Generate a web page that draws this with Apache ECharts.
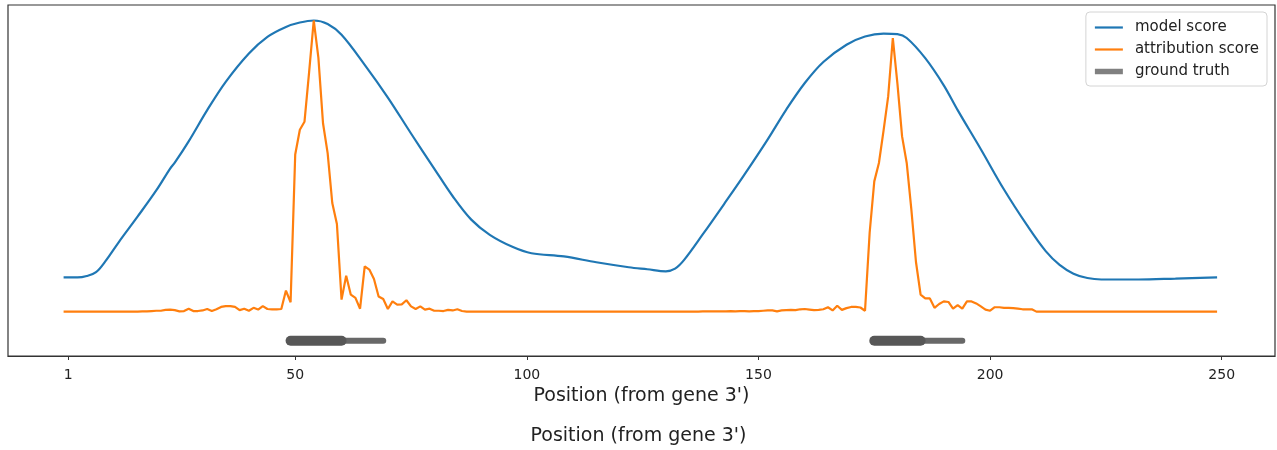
<!DOCTYPE html>
<html>
<head>
<meta charset="utf-8">
<script src="https://cdn.jsdelivr.net/npm/echarts@6/dist/echarts.min.js"></script>
<style>
html,body{margin:0;padding:0;background:#fff;}
#chart{width:1277px;height:450px;}
</style>
</head>
<body>
<div id="chart"></div>
<script>
// ---- data ----
const xTicks = [1, 50, 100, 150, 200, 250];
const xTitle = "Position (from gene 3')";

// model score (read at sampled positions)
const modelPos = [0, 3, 5, 7, 9, 12, 16, 20, 23, 24, 27, 31, 35, 40, 44, 48, 51, 54, 57, 60,
  65, 70, 75, 80, 84, 88, 92, 97, 101, 108, 115, 122, 126, 130, 132, 134, 138, 143, 147, 152,
  156, 160, 164, 169, 173, 177, 180, 182, 186, 190, 193, 198, 203, 208, 212, 215, 218, 221, 224, 232,
  240, 249];
const modelScore = [0.117, 0.117, 0.122, 0.135, 0.172, 0.240, 0.326, 0.415, 0.490, 0.510, 0.583, 0.690, 0.787, 0.884, 0.941, 0.975, 0.990, 0.997, 0.985, 0.948,
  0.845, 0.733, 0.610, 0.490, 0.395, 0.315, 0.263, 0.221, 0.200, 0.189, 0.169, 0.152, 0.145, 0.138, 0.147, 0.178, 0.265, 0.378, 0.470, 0.590,
  0.692, 0.783, 0.855, 0.914, 0.942, 0.952, 0.950, 0.937, 0.868, 0.775, 0.690, 0.556, 0.418, 0.295, 0.207, 0.160, 0.130, 0.115, 0.110, 0.110,
  0.113, 0.117];

// attribution score, one value per position 0..249
const attribution = [
  0,0,0,0,0,0,0,0,0,0,
  0,0,0,0,0,0,0,0.001,0.001,0.002,
  0.003,0.003,0.006,0.007,0.005,0.001,0.002,0.010,0.002,0.002,
  0.004,0.009,0.002,0.008,0.016,0.019,0.019,0.016,0.005,0.010,
  0.003,0.013,0.007,0.019,0.009,0.008,0.008,0.009,0.072,0.032,
  0.538,0.623,0.650,0.820,0.997,0.870,0.645,0.543,0.372,0.300,
  0.041,0.123,0.058,0.047,0.010,0.155,0.144,0.112,0.052,0.043,
  0.009,0.035,0.024,0.025,0.039,0.018,0.009,0.018,0.007,0.010,
  0.003,0.003,0.002,0.006,0.004,0.008,0.002,0,0,0,
  0,0,0,0,0,0,0,0,0,0,
  0,0,0,0,0,0,0,0,0,0,
  0,0,0,0,0,0,0,0,0,0,
  0,0,0,0,0,0,0,0,0,0,
  0,0,0,0,0,0,0,0,0.001,0.001,
  0.001,0.001,0.001,0.001,0.002,0.001,0.002,0.002,0.001,0.002,
  0.002,0.003,0.004,0.004,0.001,0.004,0.005,0.006,0.005,0.008,
  0.009,0.007,0.005,0.006,0.008,0.015,0.004,0.020,0.006,0.012,
  0.016,0.016,0.014,0.003,0.270,0.446,0.509,0.620,0.737,0.937,
  0.780,0.600,0.509,0.350,0.170,0.058,0.045,0.045,0.013,0.026,
  0.035,0.033,0.010,0.022,0.010,0.035,0.035,0.028,0.018,0.007,
  0.003,0.015,0.015,0.013,0.013,0.012,0.010,0.008,0.008,0.008,
  0,0,0,0,0,0,0,0,0,0,
  0,0,0,0,0,0,0,0,0,0,
  0,0,0,0,0,0,0,0,0,0,
  0,0,0,0,0,0,0,0,0,0
];

// ground truth intervals
const gtStart = [49, 175];
const gtCoreEnd = [60, 185];
const gtEnd = [69, 194];
const gtLevel = -0.1;

// ---- chart ----
const FONT = 'DejaVu Sans';
const BLUE = '#1f77b4', ORANGE = '#ff7f0e', GRAY = '#686868';

const series = [
  {
    name: 'model score', type: 'line', showSymbol: false, symbol: 'none',
    smooth: 0.35, lineStyle: { color: BLUE, width: 2.2 }, itemStyle: { color: BLUE },
    data: modelPos.map((p, i) => [p, modelScore[i]]), z: 2
  },
  {
    name: 'attribution score', type: 'line', showSymbol: false, symbol: 'none',
    lineStyle: { color: ORANGE, width: 2.2 }, itemStyle: { color: ORANGE },
    data: attribution.map((v, i) => [i, v]), z: 3
  }
];
gtStart.forEach((s, k) => {
  series.push({
    name: 'ground truth', type: 'line', showSymbol: false, symbol: 'none', silent: true,
    lineStyle: { color: GRAY, width: 6, cap: 'round' }, itemStyle: { color: GRAY },
    data: [[s, gtLevel], [gtEnd[k], gtLevel]], z: 4
  });
  series.push({
    name: 'ground truth', type: 'line', showSymbol: false, symbol: 'none', silent: true,
    lineStyle: { color: '#575757', width: 10, cap: 'round' }, itemStyle: { color: GRAY },
    data: [[s, gtLevel], [gtCoreEnd[k], gtLevel]], z: 5
  });
});

const chart = echarts.init(document.getElementById('chart'), null, { renderer: 'canvas' });
chart.setOption({
  animation: false,
  backgroundColor: '#fff',
  textStyle: { fontFamily: FONT },
  title: {
    text: xTitle, left: 'center', top: 427, padding: 0,
    textStyle: { fontFamily: FONT, fontSize: 19, fontWeight: 'normal', color: '#222' }
  },
  legend: {
    orient: 'vertical', right: 10, top: 12,
    padding: [8, 8, 7, 9], itemGap: 7, itemWidth: 28, itemHeight: 14,
    backgroundColor: 'rgba(255,255,255,0.85)', borderColor: '#d4d4d4', borderWidth: 1, borderRadius: 4,
    textStyle: { fontFamily: FONT, fontSize: 15, color: '#222', padding: [0, 0, 0, 7] },
    data: [
      { name: 'model score', icon: 'path://M0 0H28V2.2H0Z', itemStyle: { color: BLUE, borderWidth: 0 } },
      { name: 'attribution score', icon: 'path://M0 0H28V2.2H0Z', itemStyle: { color: ORANGE, borderWidth: 0 } },
      { name: 'ground truth', icon: 'path://M0 0H28V5.5H0Z', itemStyle: { color: '#808080', borderWidth: 0 } }
    ]
  },
  grid: {
    left: 8, right: 2, top: 5, bottom: 94,
    show: true, borderColor: '#333', borderWidth: 1.2, backgroundColor: 'transparent'
  },
  xAxis: {
    type: 'value', min: -12, max: 261.5,
    name: xTitle, nameLocation: 'middle', nameGap: 31,
    nameTextStyle: { fontFamily: FONT, fontSize: 19, color: '#222' },
    splitLine: { show: false },
    axisLine: { show: true, onZero: false, lineStyle: { color: '#333', width: 1.2 } },
    axisTick: { show: true, customValues: xTicks, length: 4, inside: false, lineStyle: { color: '#333', width: 1 } },
    axisLabel: { customValues: xTicks, margin: 12, fontFamily: FONT, fontSize: 14, color: '#222' }
  },
  yAxis: {
    type: 'value', min: -0.152, max: 1.05,
    show: false, splitLine: { show: false }
  },
  series: series
});
</script>
</body>
</html>
